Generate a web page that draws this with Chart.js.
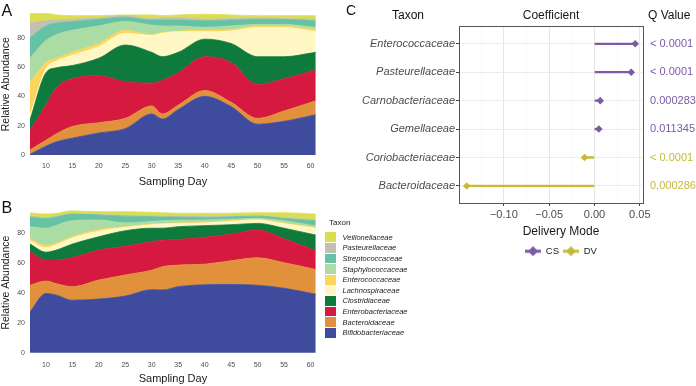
<!DOCTYPE html>
<html>
<head>
<meta charset="utf-8">
<script src="https://cdn.jsdelivr.net/npm/chart.js@4.4.1/dist/chart.umd.min.js"></script>
<style>
html, body { margin: 0; padding: 0; background: #fff; width: 696px; height: 386px; overflow: hidden; }
body { position: relative; font-family: 'Liberation Sans', Arial, sans-serif; }
canvas { position: absolute; }
.lbl { position: absolute; line-height: 1; color: #111; white-space: nowrap; }
#legendB { position: absolute; left: 325px; top: 218px; }
#legendB .ttl { font-size: 8px; color: #222; margin-left: 4px; height: 14px; }
#legendB .row { display: flex; align-items: center; height: 10.6px; }
#legendB .sw { width: 11px; height: 9.8px; margin-right: 6.5px; }
#legendB .nm { font-size: 7.5px; font-style: italic; color: #222; }
</style>
</head>
<body>
<canvas id="chartA" width="320" height="200" style="left:0;top:0"></canvas>
<canvas id="chartB" width="320" height="186" style="left:0;top:200px"></canvas>
<canvas id="chartC" width="422" height="270" style="left:350px;top:0"></canvas>

<div class="lbl" style="left:1.5px;top:3px;font-size:16px">A</div>
<div class="lbl" style="left:1.5px;top:199.5px;font-size:16px">B</div>
<div class="lbl" style="left:346px;top:3px;font-size:14px">C</div>
<div class="lbl" style="left:392px;top:9px;font-size:12px">Taxon</div>
<div class="lbl" style="left:648px;top:9px;font-size:12px">Q Value</div>
<div id="legendB"></div>

<script>
// ── Stacked abundance data (panels A and B) ─────────────────────────────────
const days = [7, 10, 12, 15, 20, 25, 30, 32, 35, 40, 45, 50, 55, 61];
const dayTicks = [10, 15, 20, 25, 30, 35, 40, 45, 50, 55, 60];
const abundanceTicks = [0, 20, 40, 60, 80];

// bottom to top
const stackTaxa = ['Bifidobacteriaceae', 'Bacteroidaceae', 'Enterobacteriaceae', 'Clostridiaceae',
    'Lachnospiraceae', 'Enterococcaceae', 'Staphylococcaceae', 'Streptococcaceae',
    'Pasteurellaceae', 'Veillonellaceae'];
const stackColors = ['#3f4c9d', '#e1913c', '#d6193e', '#0e7a3b', '#fff7c4',
    '#fdd55c', '#abdca3', '#66c2a5', '#c4c0b1', '#dadf52'];

// panel A: layer thickness per sampling day
const aBifidobacteriaceae = [0.5, 6, 9, 11.5, 15, 18, 28, 24.5, 31, 40, 33, 21, 23, 27.5];
const aBacteroidaceae     = [3, 4, 5.5, 8, 7, 7, 5.5, 3.5, 3, 4, 3, 4, 7, 9.5];
const aEnterobacteriaceae = [13.5, 24, 31.5, 32.5, 32, 25, 15.5, 23, 22, 23, 27, 23, 22, 21];
const aClostridiaceae     = [7, 22, 13.5, 9, 12, 25, 21, 16, 14, 12, 13, 19, 15, 12];
const aLachnospiraceae    = [3, 3, 4.5, 7, 8, 8, 11.5, 16, 14, 5, 8.5, 20, 20, 14];
const aEnterococcaceae    = [22, 4, 2, 2, 2, 2, 0.5, 0.5, 0.5, 1, 1, 1, 1, 1.5];
const aStaphylococcaceae  = [17, 15, 16, 15, 12, 6, 6.5, 4.5, 3.5, 2, 2.5, 1, 1, 1.5];
const aStreptococcaceae   = [14, 10, 8, 6, 4.5, 3, 3.5, 4, 4, 4.5, 4, 3.5, 3.5, 4.5];
const aPasteurellaceae    = [10, 3.5, 2, 1.5, 1, 1, 1, 1.5, 1.5, 1, 1, 1, 0.5, 1];
const aVeillonellaceae    = [6.5, 5, 3.5, 2.5, 1.5, 0.5, 2.5, 1.5, 2, 3.5, 2.5, 1.5, 2, 2.5];

// panel B
const bBifidobacteriaceae = [27.3, 39.5, 38.4, 35, 35.8, 37.8, 42, 41.8, 44, 45.3, 45.5, 45, 43, 39];
const bBacteroidaceae     = [17.7, 8.3, 7.6, 9, 12.6, 14, 13, 15.5, 14.4, 13.7, 15.8, 18.3, 17, 16.5];
const bEnterobacteriaceae = [22.3, 14, 15.8, 19.5, 20, 19.2, 19, 17.7, 17.1, 18, 17.7, 18.5, 16, 12.5];
const bClostridiaceae     = [5.1, 5.2, 6.6, 8.9, 8.9, 10.3, 9, 8, 8.5, 7.7, 6.3, 4.4, 7, 10.4];
const bLachnospiraceae    = [2.3, 3, 3.6, 4.1, 3.7, 2.2, 2.3, 2.8, 2, 1.8, 2.2, 2.3, 3, 4.6];
const bEnterococcaceae    = [1.3, 1.5, 1, 1, 1, 0.5, 0.5, 0.4, 0.5, 0.5, 0.5, 0.5, 0.5, 0.5];
const bStaphylococcaceae  = [8, 11.5, 12, 10.5, 6.5, 2.5, 1.7, 1.8, 1.8, 1.5, 1, 0.5, 1.5, 1];
const bStreptococcaceae   = [6.5, 6.5, 5.5, 4.4, 3.3, 4.5, 3.2, 2.5, 2.1, 1.7, 1.5, 1.5, 1.5, 3.5];
const bPasteurellaceae    = [0.5, 0.5, 0.5, 0.4, 0.4, 0.5, 0.5, 0.5, 0.6, 0.6, 0.5, 0.5, 0.5, 0.5];
const bVeillonellaceae    = [2.3, 2.4, 1.9, 1.9, 1.8, 2.5, 2.4, 2.3, 2, 2.1, 2, 1.8, 3.3, 3.9];

const seriesA = [aBifidobacteriaceae, aBacteroidaceae, aEnterobacteriaceae, aClostridiaceae,
    aLachnospiraceae, aEnterococcaceae, aStaphylococcaceae, aStreptococcaceae,
    aPasteurellaceae, aVeillonellaceae];
const seriesB = [bBifidobacteriaceae, bBacteroidaceae, bEnterobacteriaceae, bClostridiaceae,
    bLachnospiraceae, bEnterococcaceae, bStaphylococcaceae, bStreptococcaceae,
    bPasteurellaceae, bVeillonellaceae];

// ── Coefficient data (panel C) ───────────────────────────────────────────────
const taxaC = ['Enterococcaceae', 'Pasteurellaceae', 'Carnobacteriaceae', 'Gemellaceae',
    'Coriobacteriaceae', 'Bacteroidaceae'];
const coefficients = [0.0449, 0.0405, 0.0063, 0.0048, -0.011, -0.141];
const qValues = ['< 0.0001', '< 0.0001', '0.000283', '0.011345', '< 0.0001', '0.000286'];
const deliveryMode = ['CS', 'CS', 'CS', 'CS', 'DV', 'DV'];
const modes = ['CS', 'DV'];
const modeColors = { CS: '#7b5aa6', DV: '#c6b93e' };
const coefMajorTicks = [-0.10, -0.05, 0, 0.05];
const coefMajorLabels = ['\u22120.10', '\u22120.05', '0.00', '0.05'];
const coefMinorTicks = [-0.125, -0.075, -0.025, 0.025];

Chart.defaults.font.family = "'Liberation Sans', Arial, sans-serif";
Chart.defaults.animation = false;

// ── Panels A / B ─────────────────────────────────────────────────────────────
function streamChart(id, series, opt) {
    return new Chart(document.getElementById(id), {
        type: 'line',
        data: {
            datasets: series.map((vals, i) => ({
                label: stackTaxa[i],
                data: days.map((d, j) => ({ x: d, y: vals[j] })),
                backgroundColor: stackColors[i],
                borderColor: stackColors[i],
                borderWidth: 0.8,
                pointRadius: 0,
                fill: i === 0 ? 'origin' : '-1',
                cubicInterpolationMode: 'monotone'
            }))
        },
        options: {
            responsive: false,
            layout: { padding: { top: opt.padTop, right: 4, left: 0, bottom: 0 } },
            plugins: { legend: { display: false }, tooltip: { enabled: false } },
            scales: {
                x: {
                    type: 'linear', min: 7, max: 61,
                    afterBuildTicks: s => { s.ticks = dayTicks.map(v => ({ value: v })); },
                    afterFit: s => { s.height = opt.xHeight; },
                    grid: { display: false, drawTicks: false },
                    border: { display: false },
                    ticks: { padding: 5.5, color: '#4d4d4d', font: { size: 7 }, maxRotation: 0, autoSkip: false },
                    title: { display: true, text: 'Sampling Day', color: '#1a1a1a', font: { size: 11 },
                             padding: { top: 0, bottom: opt.titlePad } }
                },
                y: {
                    type: 'linear', stacked: true, min: opt.yMin, max: opt.yMax,
                    afterBuildTicks: s => { s.ticks = abundanceTicks.map(v => ({ value: v })); },
                    afterFit: s => { s.width = 30; },
                    grid: { display: false, drawTicks: false },
                    border: { display: false },
                    ticks: { padding: 5, color: '#4d4d4d', font: { size: 7 }, autoSkip: false },
                    title: { display: true, text: 'Relative Abundance', color: '#1a1a1a', font: { size: 10.5 },
                             padding: { top: 0, bottom: 0 } }
                }
            }
        }
    });
}

streamChart('chartA', seriesA, { padTop: 12, xHeight: 43.5, titlePad: 11.4, yMin: -1, yMax: 97.5 });
streamChart('chartB', seriesB, { padTop: 10.2, xHeight: 31, titlePad: 0.4, yMin: -1.5, yMax: 95 });

// legend of panel B (top entry = top layer)
const legendB = document.getElementById('legendB');
legendB.innerHTML = '<div class="ttl">Taxon</div>' + stackTaxa.map((t, i) =>
    `<div class="row"><div class="sw" style="background:${stackColors[i]}"></div><span class="nm">${t}</span></div>`
).reverse().join('');

// ── Panel C ──────────────────────────────────────────────────────────────────
function keyGlyph(color) {
    const c = document.createElement('canvas');
    c.width = 16; c.height = 10;
    const g = c.getContext('2d');
    g.fillStyle = color;
    g.fillRect(0, 3.5, 16, 3);
    g.beginPath();
    g.moveTo(8, 0); g.lineTo(13, 5); g.lineTo(8, 10); g.lineTo(3, 5);
    g.closePath();
    g.fill();
    return c;
}

const isMajor = c => !c.tick || coefMajorTicks.some(m => Math.abs(m - c.tick.value) < 1e-9);
const rowTicks = s => { s.ticks = taxaC.map((_, i) => ({ value: i })); };

new Chart(document.getElementById('chartC'), {
    type: 'bar',
    data: {
        datasets: [
            {
                type: 'bar',
                indexAxis: 'y',
                data: taxaC.map((t, i) => ({ x: [0, coefficients[i]], y: i })),
                backgroundColor: deliveryMode.map(m => modeColors[m]),
                barThickness: 1.6,
                borderWidth: 0,
                order: 2
            },
            ...modes.map(m => ({
                type: 'scatter',
                label: m,
                data: taxaC.map((t, i) => ({ x: coefficients[i], y: i }))
                           .filter((p, i) => deliveryMode[i] === m),
                backgroundColor: modeColors[m],
                pointBackgroundColor: modeColors[m],
                pointBorderWidth: 0,
                pointStyle: 'rectRot',
                pointRadius: 3.8,
                order: 1
            }))
        ]
    },
    options: {
        responsive: false,
        layout: { padding: { top: 0, right: 0, left: 0, bottom: 4 } },
        plugins: {
            tooltip: { enabled: false },
            legend: {
                position: 'bottom',
                title: { display: true, text: 'Delivery Mode', color: '#1a1a1a', font: { size: 12 },
                         padding: { top: 6, bottom: 2 } },
                labels: {
                    usePointStyle: true, pointStyleWidth: 16, padding: 4,
                    color: '#1a1a1a', font: { size: 9.5 },
                    generateLabels: () => modes.map(m => ({
                        text: m, pointStyle: keyGlyph(modeColors[m]),
                        fillStyle: modeColors[m], strokeStyle: modeColors[m],
                        lineWidth: 0, hidden: false
                    }))
                }
            }
        },
        scales: {
            x: {
                type: 'linear', position: 'bottom', min: -0.1495, max: 0.0535, offset: false,
                afterBuildTicks: s => {
                    s.ticks = [...coefMajorTicks, ...coefMinorTicks].sort((a, b) => a - b).map(v => ({ value: v }));
                },
                afterFit: s => { s.height = 17.1; },
                grid: {
                    offset: false,
                    color: c => isMajor(c) ? '#e6e6e6' : '#f3f3f3',
                    lineWidth: c => isMajor(c) ? 1 : 0.6,
                    tickColor: c => isMajor(c) ? '#444' : 'rgba(0,0,0,0)',
                    tickLength: 3
                },
                border: { display: true, color: '#555', width: 1 },
                ticks: {
                    padding: 2, color: '#4d4d4d', font: { size: 11 }, maxRotation: 0, autoSkip: false,
                    callback: v => {
                        const k = coefMajorTicks.findIndex(m => Math.abs(m - v) < 1e-9);
                        return k >= 0 ? coefMajorLabels[k] : '';
                    }
                }
            },
            xTop: {
                type: 'linear', position: 'top', min: -0.1495, max: 0.0535, offset: false,
                afterFit: s => { s.height = 26.7; },
                grid: { offset: false, drawOnChartArea: false, drawTicks: false },
                border: { display: true, color: '#555', width: 1 },
                ticks: { display: false },
                title: { display: true, text: 'Coefficient', color: '#1a1a1a', font: { size: 12 },
                         padding: { top: 8, bottom: 0 } }
            },
            y: {
                type: 'linear', position: 'left', min: -0.6, max: 5.6, reverse: true, offset: false,
                afterBuildTicks: rowTicks,
                afterFit: s => { s.width = 109; },
                grid: { offset: false, color: '#ececec', lineWidth: 1, tickColor: '#444', tickLength: 3 },
                border: { display: true, color: '#555', width: 1 },
                ticks: {
                    padding: 1, color: '#4d4d4d', font: { size: 11, style: 'italic' }, autoSkip: false,
                    callback: v => taxaC[v]
                }
            },
            yQ: {
                type: 'linear', position: 'right', min: -0.6, max: 5.6, reverse: true, offset: false,
                afterBuildTicks: rowTicks,
                afterFit: s => { s.width = 129; },
                grid: { offset: false, drawOnChartArea: false, drawTicks: false },
                border: { display: true, color: '#555', width: 1 },
                ticks: {
                    padding: 7, font: { size: 11 }, autoSkip: false,
                    color: c => c.tick ? modeColors[deliveryMode[c.tick.value]] : '#555',
                    callback: v => qValues[v]
                }
            }
        }
    }
});
</script>
</body>
</html>
